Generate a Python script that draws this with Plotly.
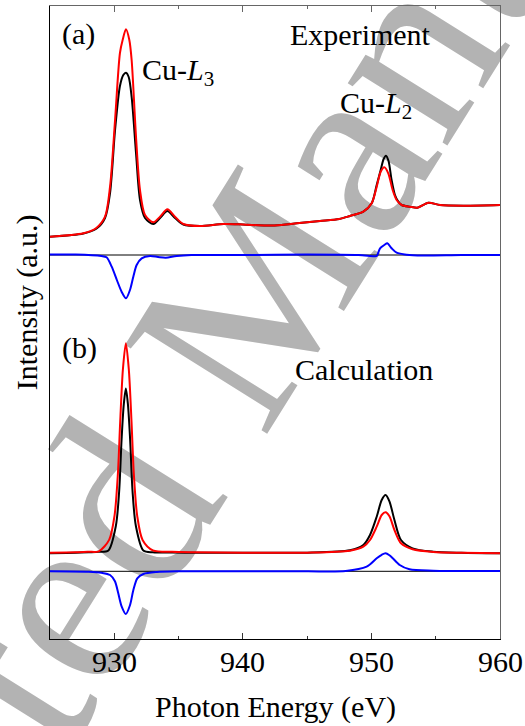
import plotly.graph_objects as go

# ---------------- data (intensity relative to each panel's zero line, a.u.) ----------------
# Panel (a) Experiment
red_a_E = [925, 927.6, 928.6, 929.28, 929.67, 930.06, 930.44, 930.65, 930.91, 931.17, 931.35, 931.69,
           932.0, 932.39, 933.04, 933.56, 934.13, 934.72, 935.37, 936.67, 938.5, 940.0, 941.8, 943.0,
           944.4, 946.0, 947.5, 948.33, 949.37, 950.02, 950.41, 950.72, 951.0, 951.31, 951.65, 951.96,
           952.35, 953.0, 953.57, 954.43, 955.33, 957.15, 960]
red_a_I = [0.183, 0.217, 0.27, 0.383, 0.683, 1.35, 2.02, 2.15, 2.257, 2.15, 1.95, 1.183,
           0.65, 0.40, 0.327, 0.383, 0.457, 0.383, 0.31, 0.29, 0.31, 0.305, 0.295, 0.30,
           0.32, 0.34, 0.36, 0.39, 0.433, 0.517, 0.683, 0.833, 0.877, 0.817, 0.65, 0.55,
           0.50, 0.483, 0.473, 0.523, 0.50, 0.493, 0.50]

black_a_E = [925, 927.6, 928.6, 929.28, 929.67, 930.06, 930.44, 930.7, 930.91, 931.12, 931.35, 931.69,
             932.0, 932.39, 933.04, 933.56, 934.13, 934.72, 935.37, 936.67, 938.5, 940.0, 941.8, 943.0,
             944.4, 946.0, 947.5, 948.33, 949.37, 950.02, 950.41, 950.72, 950.95, 951.13, 951.33, 951.57,
             951.83, 952.09, 952.35, 953.0, 953.57, 954.43, 955.33, 957.15, 960]
black_a_I = [0.183, 0.215, 0.262, 0.37, 0.62, 1.25, 1.69, 1.80, 1.823, 1.78, 1.58, 1.02,
             0.55, 0.37, 0.31, 0.37, 0.44, 0.37, 0.305, 0.29, 0.31, 0.305, 0.295, 0.30,
             0.32, 0.34, 0.36, 0.39, 0.433, 0.517, 0.70, 0.85, 0.96, 0.993, 0.94, 0.75,
             0.60, 0.533, 0.50, 0.483, 0.473, 0.523, 0.50, 0.493, 0.50]

blue_a_E = [925, 927, 929.0, 929.4, 929.8, 930.2, 930.57, 930.91, 931.22, 931.48, 931.74, 932.13,
            932.78, 933.4, 934.0, 934.85, 936, 940, 945, 949, 950.2, 950.41, 950.67, 951.0,
            951.24, 951.57, 951.96, 952.74, 954, 957, 960]
blue_a_I = [0.005, 0.005, -0.01, -0.023, -0.117, -0.25, -0.367, -0.433, -0.35, -0.217, -0.10, -0.033,
            -0.01, -0.02, -0.027, -0.01, 0.0, 0.0, 0.005, 0.0, -0.012, -0.01, 0.067, 0.10,
            0.117, 0.067, 0.023, 0.003, -0.005, 0.0, 0.0]

# Panel (b) Calculation
red_b_E = [925, 927.0, 928.0, 928.8, 929.6, 930.02, 930.28, 930.46, 930.67, 930.9, 931.13, 931.34,
           931.52, 931.78, 932.2, 933.0, 934.5, 936, 940, 945, 948.33, 949.37, 949.89, 950.41,
           950.8, 951.1, 951.4, 951.79, 952.3, 953.2, 954.8, 957, 960]
red_b_I = [0.186, 0.19, 0.195, 0.20, 0.314, 0.557, 0.975, 1.497, 2.019, 2.28, 2.019, 1.497,
           0.975, 0.557, 0.314, 0.21, 0.195, 0.19, 0.186, 0.186, 0.206, 0.246, 0.313, 0.446,
           0.563, 0.59, 0.55, 0.413, 0.28, 0.22, 0.193, 0.185, 0.18]

black_b_E = [925, 927.0, 928.0, 928.8, 929.54, 930.12, 930.38, 930.57, 930.74, 930.9, 931.06, 931.23,
             931.42, 931.68, 932.26, 933.0, 934.5, 936, 940, 945, 948.33, 949.37, 949.89, 950.41,
             950.8, 951.1, 951.4, 951.79, 952.3, 953.2, 954.8, 957, 960]
black_b_I = [0.18, 0.185, 0.19, 0.195, 0.209, 0.453, 0.801, 1.323, 1.671, 1.828, 1.671, 1.323,
             0.801, 0.453, 0.209, 0.19, 0.187, 0.186, 0.186, 0.186, 0.21, 0.263, 0.363, 0.546,
             0.713, 0.763, 0.70, 0.513, 0.313, 0.23, 0.196, 0.185, 0.18]

blue_b_E = [925, 928.0, 929.0, 929.67, 930.05, 930.31, 930.57, 930.9, 931.22, 931.48, 931.79, 932.26,
            933.3, 935, 940, 945, 948.0, 949.63, 950.41, 950.8, 951.1, 951.4, 951.66, 952.2,
            952.96, 954.8, 960]
blue_b_I = [0.0, -0.005, -0.015, -0.037, -0.10, -0.22, -0.35, -0.427, -0.34, -0.19, -0.07, -0.027,
            -0.007, 0.0, 0.0, 0.0, 0.003, 0.046, 0.13, 0.165, 0.18, 0.16, 0.13, 0.063,
            0.02, 0.006, 0.003]

x_range = [925, 960]
x_ticks = [930, 940, 950, 960]
x_tick_labels = ["930", "940", "950", "960"]
x_minor = [935, 945, 955]
offset_a = 3.84   # zero line of panel (a)
offset_b = 0.677  # zero line of panel (b)
y_range = [0, 6.33]

FONT = "Liberation Serif"

fig = go.Figure()

def add_curve(E, I, off, color, width=2.0):
    fig.add_trace(go.Scatter(x=E, y=[v + off for v in I], mode="lines",
                             line=dict(color=color, width=width, shape="spline", smoothing=0.8),
                             showlegend=False, hoverinfo="skip"))

# zero lines
for off in (offset_a, offset_b):
    fig.add_trace(go.Scatter(x=x_range, y=[off, off], mode="lines",
                             line=dict(color="black", width=1), showlegend=False, hoverinfo="skip"))

add_curve(blue_a_E, blue_a_I, offset_a, "#0000ff")
add_curve(black_a_E, black_a_I, offset_a, "#000000")
add_curve(red_a_E, red_a_I, offset_a, "#ff0000")
add_curve(blue_b_E, blue_b_I, offset_b, "#0000ff")
add_curve(black_b_E, black_b_I, offset_b, "#000000")
add_curve(red_b_E, red_b_I, offset_b, "#ff0000")

# dummy trace for the mirrored (top/right) axes
fig.add_trace(go.Scatter(x=[None], y=[None], xaxis="x2", yaxis="y2", showlegend=False, hoverinfo="skip"))

fig.update_layout(
    width=525, height=726,
    margin=dict(l=50, r=25, t=6, b=87),
    paper_bgcolor="white", plot_bgcolor="rgba(0,0,0,0)",
    xaxis=dict(range=x_range, showline=True, linecolor="black", linewidth=1, mirror=False,
               ticks="inside", ticklen=6, tickwidth=1, tickcolor="#333", tickvals=x_ticks,
               showticklabels=False, showgrid=False, zeroline=False,
               minor=dict(tickvals=x_minor, ticks="inside", ticklen=3, tickcolor="#333")),
    xaxis2=dict(range=x_range, overlaying="x", side="top", anchor="y2", matches="x",
                showline=True, linecolor="#666", linewidth=1,
                ticks="inside", ticklen=6, tickwidth=1, tickcolor="#666", tickvals=x_ticks,
                showticklabels=False, showgrid=False, zeroline=False,
                minor=dict(tickvals=x_minor, ticks="inside", ticklen=3, tickcolor="#666")),
    yaxis=dict(range=y_range, showline=True, linecolor="black", linewidth=1, ticks="",
               showticklabels=False, showgrid=False, zeroline=False),
    yaxis2=dict(range=y_range, overlaying="y", side="right", anchor="x2", matches="y",
                showline=True, linecolor="#666", linewidth=1, ticks="",
                showticklabels=False, showgrid=False, zeroline=False),
)

# watermark (drawn beneath everything)
fig.add_shape(type="rect", xref="paper", yref="paper", x0=0.336, x1=0.340, y0=0.499, y1=0.503,
              line=dict(width=0), fillcolor="rgba(0,0,0,0)", layer="below",
              label=dict(text="Accepted Manuscript", textangle=-58, textposition="middle center",
                         font=dict(size=256, color="#b3b3b3", family=FONT)))

def ann(text, x, y, xanchor="left", **kw):
    fig.add_annotation(text=text, x=x, y=y, xref="x", yref="y", xanchor=xanchor, yanchor="middle",
                       showarrow=False, font=dict(size=30, family=FONT, color="black"), **kw)

ann("(a)", 925.78, 6.05)
ann("Experiment", 943.51, 6.05)
ann("Cu-<i>L</i><sub>3</sub>", 932.0, 5.67)
ann("Cu-<i>L</i><sub>2</sub>", 947.4, 5.34)
ann("(b)", 925.78, 2.915)
ann("Calculation", 943.9, 2.70)

# x tick labels
for tv, tl in zip(x_ticks, x_tick_labels):
    fig.add_annotation(text=tl, x=tv, y=-0.0355, xref="x", yref="paper", xanchor="center",
                       yanchor="middle", showarrow=False,
                       font=dict(size=30, family=FONT, color="black"))

fig.add_annotation(text="Intensity (a.u.)", xref="paper", yref="paper", x=-0.0511, y=0.532,
                   xanchor="center", yanchor="middle", textangle=-90, showarrow=False,
                   font=dict(size=30, family=FONT, color="black"))
fig.add_annotation(text="Photon Energy (eV)", xref="paper", yref="paper", x=0.5, y=-0.1074,
                   xanchor="center", yanchor="middle", showarrow=False,
                   font=dict(size=30, family=FONT, color="black"))

fig.write_html("out.html", config={"displayModeBar": False},
               post_script="document.body.style.margin='0';")
